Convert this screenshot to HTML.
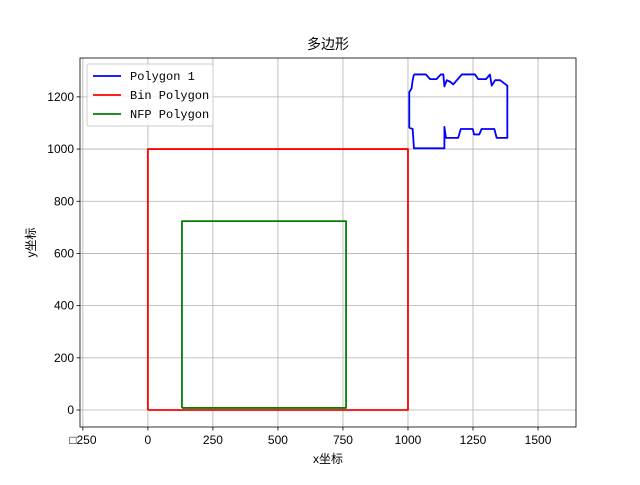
<!DOCTYPE html>
<html><head><meta charset="utf-8"><style>body{margin:0;background:#fff}svg{font-family:"Liberation Sans","Noto Sans CJK SC",sans-serif}</style></head>
<body>
<svg id="c" width="640" height="480">
<rect width="640" height="480" fill="#fff"/>
</svg>
<script>
const xTicks=[-250,0,250,500,750,1000,1250,1500];
const xTickLabels=["□250","0","250","500","750","1000","1250","1500"];
const yTicks=[0,200,400,600,800,1000,1200];
const polyX=[1023,1069,1085,1110,1126,1136,1140,1149,1162,1174,1207,1258,1270,1300,1315,1322,1335,1354,1382,1382,1341,1332,1283,1274,1254,1249,1203,1193,1146,1140,1140,1023,1018,1005,1005,1014,1018,1023];
const polyY=[1286,1286,1268,1268,1286,1286,1240,1264,1258,1248,1286,1286,1268,1268,1286,1243,1264,1264,1243,1043,1043,1077,1077,1056,1056,1077,1077,1043,1043,1085,1003,1003,1077,1082,1218,1233,1264,1286];
const binX=[0,1000,1000,0,0];
const binY=[0,0,1000,1000,0];
const nfpX=[131,762,762,131,131];
const nfpY=[8,8,724,724,8];
const L=80,R=576,T=58,B=427,xmin=-261,xmax=1646,ymin=-65,ymax=1349;
const sx=v=>L+(v-xmin)/(xmax-xmin)*(R-L);
const sy=v=>B-(v-ymin)/(ymax-ymin)*(B-T);
const svg=document.getElementById('c');
const NS='http://www.w3.org/2000/svg';
function mk(t,a){const e=document.createElementNS(NS,t);for(const k in a)e.setAttribute(k,a[k]);svg.appendChild(e);return e;}
xTicks.forEach((v,i)=>{
 const g=mk('line',{x1:sx(v),x2:sx(v),y1:T,y2:B,stroke:'#b0b0b0','stroke-width':0.8});
 
 
 mk('line',{x1:sx(v),x2:sx(v),y1:B,y2:B+3.5,stroke:'#000','stroke-width':0.8});
 const t=mk('text',{x:sx(v),y:B+17,'text-anchor':'middle','font-size':12});
 t.textContent=xTickLabels[i];
 
 
});
yTicks.forEach(v=>{
 const g=mk('line',{x1:L,x2:R,y1:sy(v),y2:sy(v),stroke:'#b0b0b0','stroke-width':0.8});
 
 
 mk('line',{x1:L-3.5,x2:L,y1:sy(v),y2:sy(v),stroke:'#000','stroke-width':0.8});
 const t=mk('text',{x:L-6,y:sy(v)+4,'text-anchor':'end','font-size':12});
 t.textContent=v;
 
 
});
function line(xs,ys,c,n){const p=mk('polyline',{points:xs.map((x,i)=>sx(x)+','+sy(ys[i])).join(' '),fill:'none',stroke:c,'stroke-width':1.8,'stroke-linejoin':'round'});
 
 }
line(polyX,polyY,'#0000ff','polygon-1-line');
line(binX,binY,'#ff0000','bin-polygon-line');
line(nfpX,nfpY,'#008000','nfp-polygon-line');
const fr=mk('rect',{x:L,y:T,width:R-L,height:B-T,fill:'none',stroke:'#000','stroke-width':0.8});


const ttl=mk('text',{x:(L+R)/2,y:49,'text-anchor':'middle','font-size':14});ttl.textContent='多边形';


const xl=mk('text',{x:(L+R)/2,y:463,'text-anchor':'middle','font-size':12});xl.textContent='x坐标';


const yl=mk('text',{x:0,y:0,'text-anchor':'middle','font-size':12,transform:'translate(35,'+((T+B)/2)+') rotate(-90)'});yl.textContent='y坐标';


const lg=mk('rect',{x:87,y:64,width:126,height:62,fill:'#fff','fill-opacity':0.8,stroke:'#ccc',rx:2});


[['Polygon 1','#0000ff'],['Bin Polygon','#ff0000'],['NFP Polygon','#008000']].forEach((e,i)=>{
 const y=76+i*19;
 mk('line',{x1:93,x2:121,y1:y,y2:y,stroke:e[1],'stroke-width':1.8});
 const t=mk('text',{x:130,y:y+4,'font-size':12,'font-family':'Liberation Mono, monospace'});t.textContent=e[0];
 
 
});
</script>
</body></html>
